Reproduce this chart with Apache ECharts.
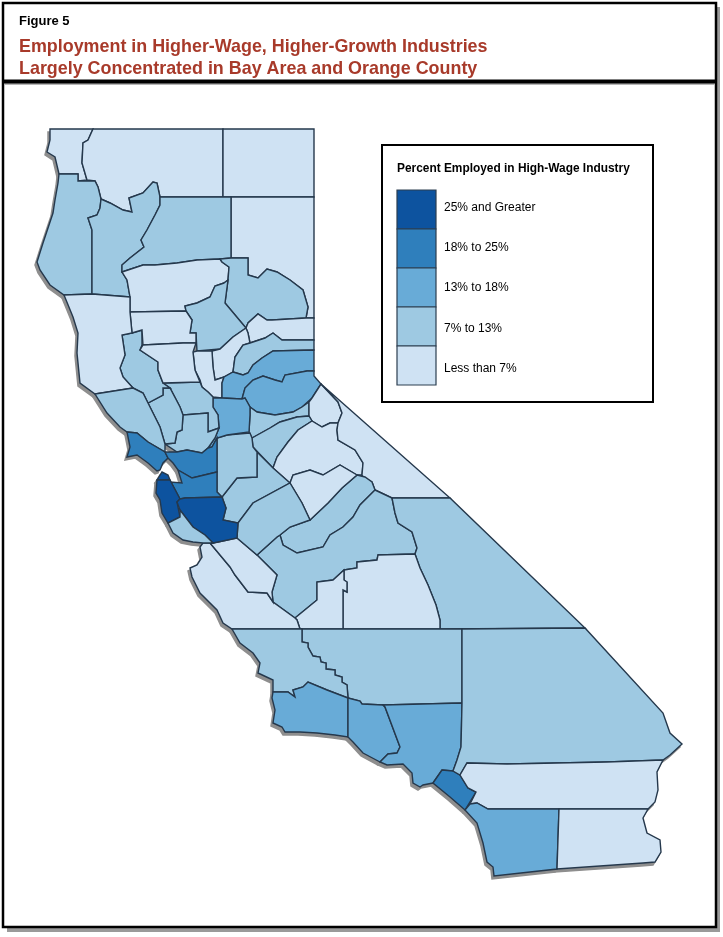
<!DOCTYPE html>
<html><head><meta charset="utf-8">
<style>html,body{margin:0;padding:0;background:#fff}#c{width:723px;height:937px}</style>
<script src="https://cdn.jsdelivr.net/npm/echarts@6/dist/echarts.min.js"></script>
</head><body><div id="c"></div>
<script>
const figureLabel = 'Figure 5';
const titleLines = ['Employment in Higher-Wage, Higher-Growth Industries', 'Largely Concentrated in Bay Area and Orange County'];
const legendTitle = 'Percent Employed in High-Wage Industry';
const classLabels = ['25% and Greater', '18% to 25%', '13% to 18%', '7% to 13%', 'Less than 7%'];
const classMins = [25, 18, 13, 7, 0];
const classMaxs = [100, 25, 18, 13, 7];
const classColors = ['#0d539f', '#2f7fbc', '#68abd7', '#9ec9e2', '#cfe2f3'];

// estimated share per county, read only to the class shown on the map
const under7 = ['Del Norte','Siskiyou','Modoc','Lassen','Tehama','Glenn','Colusa','Mendocino','Sierra','Yuba','Sutter','Alpine','Mono','Tuolumne','Mariposa','Tulare','Kings','Monterey','San Benito','Riverside','Imperial'];
const from7to13 = ['Humboldt','Trinity','Shasta','Plumas','Butte','Nevada','Amador','Calaveras','Lake','Yolo','Solano','Napa','Sonoma','Stanislaus','Merced','San Joaquin','Madera','Fresno','Inyo','Santa Cruz','Kern','San Luis Obispo','San Bernardino'];
const from13to18 = ['Placer','El Dorado','Sacramento','Santa Barbara','Ventura','Los Angeles','San Diego'];
const from18to25 = ['Marin','Contra Costa','Alameda','Orange'];
const over25 = ['San Francisco','San Mateo','Santa Clara'];
const classValues = [30, 21, 15, 10, 4];

// county outlines (flat x,y lists)
const outlines = {
'Del Norte':[50,129,93,129,88,140,83,143,82,163,87,180,78,181,78,174,59,174,55,157,47,152,50,140],
'Siskiyou':[93,129,223,129,223,197,160,197,157,183,153,182,143,193,129,198,132,212,123,210,110,203,101,199,98,187,95,181,87,180,82,163,83,143,88,140],
'Modoc':[223,129,314,129,314,197,223,197],
'Lassen':[231,197,314,197,314,318,306,318,308,307,303,290,290,280,277,272,267,269,258,278,248,275,248,258,231,258],
'Humboldt':[59,174,78,174,78,181,95,181,98,187,101,199,100,208,97,215,88,218,92,230,92,294,64,295,50,285,40,270,37,262,43,243,53,213,55,200,58,183],
'Trinity':[92,294,92,230,88,218,97,215,100,208,101,199,110,203,123,210,132,212,129,198,143,193,153,182,157,183,160,197,160,205,155,215,147,230,141,240,144,247,130,258,122,265,122,272,127,280,130,297],
'Shasta':[160,197,231,197,231,258,220,259,197,260,177,263,155,265,143,265,128,270,122,272,122,265,130,258,144,247,141,240,147,230,155,215,160,205],
'Tehama':[122,272,128,270,143,265,155,265,177,263,197,260,220,259,222,262,229,267,228,280,224,283,215,286,210,297,197,303,185,306,186,311,130,312,130,297,127,280],
'Plumas':[220,259,231,258,248,258,248,275,258,278,267,269,277,272,290,280,303,290,308,307,306,318,272,320,267,320,258,314,248,323,246,328,225,303,228,280,229,267,222,262],
'Butte':[224,283,228,280,225,303,246,328,233,337,220,349,197,351,196,333,190,333,192,320,186,311,185,306,197,303,210,297,215,286],
'Sierra':[248,333,246,328,248,323,258,314,267,320,272,320,306,318,314,318,314,340,282,340,273,333,265,338,250,343],
'Yuba':[212,351,220,349,233,337,246,328,248,333,250,343,243,345,235,357,233,372,224,377,215,380,213,367],
'Sutter':[197,351,212,351,213,367,215,380,224,377,222,383,222,398,213,397,208,392,202,387,200,380,195,370,193,352],
'Nevada':[250,343,265,338,273,333,282,340,314,340,314,350,273,351,262,358,253,365,248,373,243,375,233,372,235,357,243,345],
'Placer':[233,372,243,375,248,373,253,365,262,358,273,351,314,350,314,371,307,371,285,375,282,382,275,380,263,376,253,380,245,388,242,399,222,398,222,383,224,377],
'El Dorado':[242,399,245,388,253,380,263,376,275,380,282,382,285,375,307,371,314,371,314,376,321,384,312,398,302,407,293,412,275,415,257,412,250,407,245,398],
'Amador':[250,415,250,407,257,412,275,415,293,412,302,407,309,402,309,416,297,417,280,422,270,428,252,438,249,432],
'Alpine':[321,384,338,402,342,413,338,423,330,423,322,427,312,421,309,416,309,402,312,398],
'Calaveras':[252,438,270,428,280,422,297,417,309,416,312,421,298,430,288,442,277,457,273,468,253,447],
'Tuolumne':[312,421,322,427,330,423,338,423,337,430,338,440,355,450,363,463,362,475,357,475,340,465,323,475,310,470,293,475,290,483,273,468,277,457,288,442,298,430],
'Mono':[321,384,450,498,392,498,375,490,372,482,363,477,362,475,363,463,355,450,338,440,337,430,338,423,342,413,338,402],
'Madera':[357,475,365,477,372,482,375,490,360,505,353,517,343,527,330,535,323,547,297,553,283,545,280,535,290,527,310,520,328,503,342,488],
'Mariposa':[290,483,293,475,310,470,323,475,340,465,357,475,342,488,328,503,310,520,302,503],
'Fresno':[375,490,392,498,395,513,398,523,412,532,417,548,415,554,378,555,377,560,357,562,357,568,344,570,333,580,317,582,317,600,295,618,273,602,272,592,277,575,257,555,277,537,280,535,283,545,297,553,323,547,330,535,343,527,353,517,360,505],
'Inyo':[392,498,450,498,585,628,440,629,440,620,436,605,428,585,420,568,415,554,417,548,412,532,398,523,395,513],
'Tulare':[344,570,357,568,357,562,377,560,378,555,415,554,420,568,428,585,436,605,440,620,440,629,343,629,343,590,347,592,347,582,344,580],
'Kings':[317,582,333,580,344,570,344,580,347,582,347,592,343,590,343,629,300,629,297,620,295,618,317,600],
'Monterey':[210,543,230,567,235,575,248,592,267,593,273,602,295,618,297,620,300,629,232,629,223,623,217,610,200,593,192,577,190,568,197,565,202,557,200,547,203,543],
'San Benito':[210,543,213,543,218,542,237,538,257,555,277,575,272,592,273,602,267,593,248,592,235,575,230,567],
'Stanislaus':[257,452,273,468,290,483,253,503,238,523,223,520,226,508,222,497,237,478,257,477],
'Merced':[290,483,302,503,310,520,290,527,280,535,277,537,257,555,237,538,238,523,253,503],
'San Joaquin':[217,438,227,435,250,433,252,438,253,447,257,452,257,477,237,478,222,497,217,492,217,472],
'Sacramento':[213,398,222,398,242,399,245,398,250,407,250,415,249,432,250,433,227,435,217,438,212,447,208,448,215,438,219,428,218,415,213,407],
'Yolo':[163,383,200,382,202,387,208,392,213,397,213,407,218,415,219,428,208,432,208,413,183,415,180,407,170,388],
'Solano':[183,415,208,413,208,432,219,428,215,438,208,448,202,453,187,450,177,452,165,444,175,443,177,432,182,430],
'Napa':[148,403,163,395,163,388,170,388,180,407,183,415,182,430,177,432,175,443,165,444,160,427,155,417],
'Lake':[122,335,132,333,142,330,142,345,140,350,158,362,158,370,163,383,170,388,163,388,163,395,148,403,143,393,133,388,123,377,120,368,125,355],
'Glenn':[130,312,186,311,192,320,190,333,196,333,196,343,183,343,143,345,142,330,132,333],
'Colusa':[143,345,183,343,196,343,193,352,195,370,200,382,163,383,158,370,158,362,140,350],
'Mendocino':[64,295,92,294,130,297,130,312,132,333,122,335,125,355,120,368,123,377,133,388,95,394,80,383,77,353,78,333,73,317],
'Sonoma':[95,394,133,388,143,393,148,403,155,417,160,427,165,444,165,452,148,442,137,433,127,432,120,427,107,413],
'Marin':[127,432,137,433,148,442,165,452,168,458,163,463,160,470,157,471,148,463,137,455,127,457,130,447],
'Contra Costa':[165,452,177,452,187,450,202,453,208,448,212,447,217,438,217,472,192,478,178,470,173,463,168,458],
'Alameda':[178,470,192,478,217,472,217,492,222,497,185,498,180,499,171,482,182,483],
'San Francisco':[157,480,162,472,168,475,170,480],
'San Mateo':[157,480,170,480,180,499,177,502,180,517,168,523,162,513,160,500,156,493],
'Santa Clara':[177,502,180,499,185,498,222,497,226,508,223,520,238,523,237,538,218,542,213,543,205,535,193,527,180,510],
'Santa Cruz':[180,517,180,510,193,527,205,535,213,543,203,543,193,542,183,540,173,533,168,523],
'Kern':[300,629,462,629,462,703,383,705,362,704,360,701,348,698,347,685,342,682,342,677,335,675,335,670,326,669,326,663,321,662,320,657,313,656,308,647,308,643,302,642,302,629],
'San Luis Obispo':[232,629,302,629,302,642,308,643,308,647,313,656,320,657,321,662,326,663,326,669,335,670,335,675,342,677,342,682,347,685,348,698,327,690,308,682,303,687,293,690,295,697,288,692,273,692,273,680,258,673,260,663,253,653,240,643],
'Santa Barbara':[273,692,288,692,295,697,293,690,303,687,308,682,327,690,348,698,348,737,335,735,317,733,300,732,285,732,282,727,273,723,275,710,272,698],
'Ventura':[348,698,360,701,362,704,383,705,385,707,400,747,397,753,388,754,380,762,363,753,353,742,348,737],
'Los Angeles':[383,705,462,703,461,747,457,760,453,771,442,770,433,783,423,785,420,787,413,783,412,773,403,764,387,765,380,762,388,754,397,753,400,747,385,707],
'Orange':[433,783,442,770,453,771,460,775,468,788,476,792,465,810,450,797],
'San Bernardino':[462,629,585,628,663,713,670,733,682,744,670,755,663,760,607,762,507,764,467,763,460,775,453,771,457,760,461,747,462,703],
'Riverside':[467,763,507,764,607,762,663,760,657,772,658,790,655,802,648,809,560,809,488,809,477,803,470,804,476,792,468,788,460,775],
'San Diego':[465,810,470,804,477,803,488,809,559,809,557,869,494,876,493,867,487,862,483,843,477,823],
'Imperial':[559,809,648,809,643,818,647,833,660,840,661,852,655,862,643,863,557,869]
};

const classMembers = [over25, from18to25, from13to18, from7to13, under7];
const mapData = [];
classMembers.forEach((names, i) => names.forEach(n => mapData.push({name: n, value: classValues[i]})));

const features = Object.keys(outlines).map(name => {
  const f = outlines[name], ring = [];
  for (let i = 0; i < f.length; i += 2) ring.push([f[i], 937 - f[i + 1]]);
  ring.push(ring[0].slice());
  return {type: 'Feature', properties: {name}, geometry: {type: 'Polygon', coordinates: [ring]}};
});
const geoJson = {type: 'FeatureCollection', features};
echarts.registerMap('ca', JSON.parse(JSON.stringify(geoJson)));
echarts.registerMap('caShadow', JSON.parse(JSON.stringify(geoJson)));

const FONT = '"Liberation Sans", Arial, sans-serif';
const chart = echarts.init(document.getElementById('c'), null, {renderer: 'canvas'});
const bounds = [[0, 937], [723, 0]];
const swatchTop = 190, swatchH = 39, labelStep = 40.3, labelTop = 201.5;
chart.setOption({
  animation: false,
  backgroundColor: '#fff',
  title: {
    text: titleLines.join('\n'), left: 14, top: 31,
    textStyle: {fontFamily: FONT, fontWeight: 'bold', fontSize: 17.9, lineHeight: 22, color: '#a83a2a'}
  },
  visualMap: {
    type: 'piecewise', show: false, seriesIndex: 1,
    pieces: classLabels.map((label, i) => ({min: classMins[i], max: classMaxs[i], label, color: classColors[i]}))
  },
  series: [
    {type: 'map', map: 'caShadow', silent: true, left: -2, top: 3, width: 723, height: 937, boundingCoords: bounds,
     aspectScale: 1, roam: false, selectedMode: false, z: 1,
     label: {show: false}, emphasis: {disabled: true},
     itemStyle: {areaColor: '#8e8e8e', borderColor: '#8e8e8e', borderWidth: 1.5}},
    {type: 'map', map: 'ca', left: 0, top: 0, width: 723, height: 937, boundingCoords: bounds,
     aspectScale: 1, roam: false, selectedMode: false, z: 2,
     label: {show: false}, emphasis: {disabled: true},
     itemStyle: {borderColor: '#25384c', borderWidth: 1.4},
     data: mapData}
  ],
  graphic: [
    {type: 'rect', z: -10, silent: true, shape: {x: 7, y: 7, width: 713, height: 925}, style: {fill: '#9a9a9a'}},
    {type: 'rect', z: -9, silent: true, shape: {x: 3, y: 3, width: 713, height: 924}, style: {fill: '#fff', stroke: '#000', lineWidth: 2.5}},
    {type: 'rect', z: -8, silent: true, shape: {x: 4, y: 83, width: 711, height: 2}, style: {fill: '#b5b5b5'}},
    {type: 'rect', z: 3, silent: true, shape: {x: 3, y: 79.5, width: 713, height: 4}, style: {fill: '#000'}},
    {type: 'text', z: 3, silent: true, left: 19, top: 15, style: {text: figureLabel, font: 'bold 13px ' + FONT, fill: '#000'}},
    {type: 'rect', z: 3, silent: true, shape: {x: 382, y: 145, width: 271, height: 257}, style: {fill: '#fff', stroke: '#000', lineWidth: 2}},
    {type: 'text', z: 4, silent: true, left: 397, top: 162.5, style: {text: legendTitle, font: 'bold 11.9px ' + FONT, fill: '#000'}},
    ...classLabels.map((_, i) => ({
      type: 'rect', z: 6, silent: true, shape: {x: 397, y: swatchTop + i * swatchH, width: 39, height: swatchH},
      style: {fill: classColors[i], stroke: '#2c3e50', lineWidth: 1.2}
    })),
    ...classLabels.map((label, i) => ({
      type: 'text', z: 6, silent: true, left: 444, top: labelTop + i * labelStep,
      style: {text: label, font: '12px ' + FONT, fill: '#000'}
    }))
  ]
});
</script></body></html>
